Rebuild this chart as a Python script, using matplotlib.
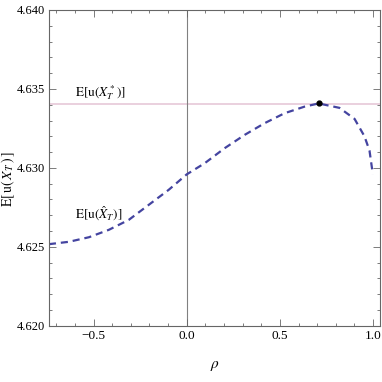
import numpy as np
import matplotlib
matplotlib.use("Agg")
import matplotlib.pyplot as plt
from matplotlib.ticker import MultipleLocator

plt.rcParams['font.family'] = ['Liberation Serif', 'DejaVu Serif']
plt.rcParams['mathtext.fontset'] = 'stix'

# curve
rho = [-0.740, -0.633, -0.525, -0.418, -0.311, -0.204, -0.097, 0.0,
       0.097, 0.204, 0.311, 0.418, 0.525, 0.633, 0.708, 0.820,
       0.901, 0.954, 0.981, 0.999]
eu_hat = [4.62517, 4.62532, 4.62561, 4.62608, 4.62671, 4.62766, 4.62861, 4.62959,
          4.63030, 4.63125, 4.63209, 4.63283, 4.63346, 4.63388, 4.63408, 4.63380,
          4.63310, 4.63200, 4.63110, 4.62960]
eu_star = 4.63405
rho_opt, eu_opt = 0.708, 4.63408

fig = plt.figure(figsize=(3.82, 3.82), dpi=100)
ax = fig.add_axes([0.128, 0.147, 0.868, 0.827])

ax.axhline(eu_star, color='#e6c8d8', lw=1.2, zorder=1)
ax.axvline(0, color='#808080', lw=0.8, zorder=1)
ax.plot(rho, eu_hat, color='#4444a0', lw=1.6, ls=(0, (3.2, 2.2)), zorder=2)
ax.plot([rho_opt], [eu_opt], 'o', color='black', ms=3.5, zorder=3)

ax.text(-0.6, eu_star + 0.0005, r'$\mathrm{E[u(}X_T^*\mathrm{)]}$', fontsize=9.5)
ax.text(-0.6, 4.6268, r'$\mathrm{E[u(}\hat{X}_T\mathrm{)]}$', fontsize=9.5)

ax.set_xlim(-0.74, 1.04)
ax.set_ylim(4.620, 4.640)
ax.xaxis.set_major_locator(MultipleLocator(0.5))
ax.xaxis.set_minor_locator(MultipleLocator(0.1))
ax.yaxis.set_major_locator(MultipleLocator(0.005))
ax.yaxis.set_minor_locator(MultipleLocator(0.001))
ax.xaxis.set_major_formatter(plt.FuncFormatter(lambda v, p: f'{v:.1f}'.replace('-', '\u2212')))
ax.yaxis.set_major_formatter(plt.FuncFormatter(lambda v, p: f'{v:.3f}'))
ax.tick_params(which='both', direction='in', top=True, right=True, labelsize=9.5,
               color='#666666', width=0.6)
ax.tick_params(axis='y', labelsize=9)
ax.tick_params(which='major', length=5, pad=3)
ax.tick_params(which='minor', length=2.5)
for s in ax.spines.values():
    s.set_color('#666666')
    s.set_linewidth(0.8)

ax.set_xlabel(r'$\rho$', fontsize=11, labelpad=12)
ax.set_ylabel(r'$\mathrm{E[\,u(\,}X_T\mathrm{\,)\,]}$', fontsize=10)
ax.yaxis.set_label_coords(-0.097, 0.465)

fig.savefig('out.png', dpi=100)
